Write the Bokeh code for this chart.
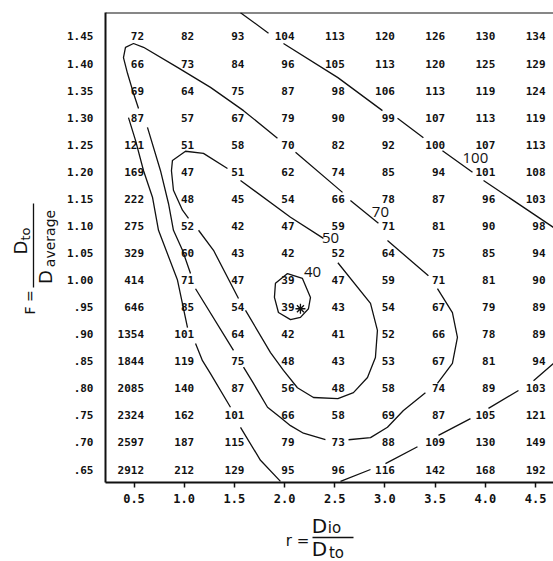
from math import pi, nan
from bokeh.plotting import figure
from bokeh.layouts import row, column
from bokeh.models import Range1d, FixedTicker, ColumnDataSource, Span
from bokeh.core.properties import value
from bokeh.embed import file_html
from bokeh.resources import INLINE

# ---------------- data ----------------
r_cols = [0.5, 1.0, 1.5, 2.0, 2.5, 3.0, 3.5, 4.0, 4.5]
F_rows = [1.45, 1.40, 1.35, 1.30, 1.25, 1.20, 1.15, 1.10, 1.05, 1.00,
          0.95, 0.90, 0.85, 0.80, 0.75, 0.70, 0.65]
x_tick_labels = ["0.5", "1.0", "1.5", "2.0", "2.5", "3.0", "3.5", "4.0", "4.5"]
y_tick_labels = ["1.45", "1.40", "1.35", "1.30", "1.25", "1.20", "1.15", "1.10",
                 "1.05", "1.00", ".95", ".90", ".85", ".80", ".75", ".70", ".65"]

grid_values = [
    [72, 82, 93, 104, 113, 120, 126, 130, 134],
    [66, 73, 84, 96, 105, 113, 120, 125, 129],
    [69, 64, 75, 87, 98, 106, 113, 119, 124],
    [87, 57, 67, 79, 90, 99, 107, 113, 119],
    [121, 51, 58, 70, 82, 92, 100, 107, 113],
    [169, 47, 51, 62, 74, 85, 94, 101, 108],
    [222, 48, 45, 54, 66, 78, 87, 96, 103],
    [275, 52, 42, 47, 59, 71, 81, 90, 98],
    [329, 60, 43, 42, 52, 64, 75, 85, 94],
    [414, 71, 47, 39, 47, 59, 71, 81, 90],
    [646, 85, 54, 39, 43, 54, 67, 79, 89],
    [1354, 101, 64, 42, 41, 52, 66, 78, 89],
    [1844, 119, 75, 48, 43, 53, 67, 81, 94],
    [2085, 140, 87, 56, 48, 58, 74, 89, 103],
    [2324, 162, 101, 66, 58, 69, 87, 105, 121],
    [2597, 187, 115, 79, 73, 88, 109, 130, 149],
    [2912, 212, 129, 95, 96, 116, 142, 168, 192],
]

# contour lines (nan = break where line meets a number)
c100_upper_r = [1.561, 1.840, nan, 1.989, 2.531, 2.975, nan, 3.125, 3.383, nan,
                3.573, 3.872, nan, 3.982, 4.68]
c100_upper_F = [1.494, 1.456, nan, 1.437, 1.374, 1.313, nan, 1.299, 1.263, nan,
                1.239, 1.199, nan, 1.184, 1.097]

c100_left_r = [0.445, 0.515, 0.595, 0.684, 0.744, 0.933, 1.033, nan, 1.113, 1.182,
               1.262, 1.461, nan, 1.561, 1.760, 1.959]
c100_left_F = [1.300, 1.258, 1.202, 1.153, 1.092, 1.000, 0.912, nan, 0.883, 0.851,
               0.827, 0.765, nan, 0.728, 0.667, 0.628]

c100_lower_r = [4.68, 4.480, nan, 4.330, 4.031, nan, 3.852, 3.533, nan, 3.324,
                3.005, nan, 2.856, 2.557]
c100_lower_F = [0.846, 0.814, nan, 0.796, 0.763, nan, 0.744, 0.713, nan, 0.692,
                0.661, nan, 0.650, 0.628]

c70_r = [0.595, 0.495, 0.415, 0.395, 0.435, 0.495, 0.545, nan, 0.634, 0.764, 0.844,
         0.893, 0.983, 1.063, nan, 1.113, 1.491, nan, 1.591, 1.690, 1.830, 1.959,
         2.059, 2.188, 2.407, nan, 2.637, 2.856, 3.025, 3.184, 3.403, nan, 3.523,
         3.672, 3.722, 3.672, 3.523, nan, 3.433, 3.025, nan, 2.935, 2.656, nan,
         2.577, 2.109, nan, 1.929, 1.591, 1.262, 0.933, 0.595]
c70_F = [1.430, 1.437, 1.430, 1.411, 1.382, 1.345, 1.317, nan, 1.282, 1.202, 1.141,
         1.092, 1.055, 1.012, nan, 0.984, 0.870, nan, 0.839, 0.809, 0.765, 0.746,
         0.731, 0.717, 0.705, nan, 0.705, 0.709, 0.728, 0.759, 0.792, nan, 0.809,
         0.846, 0.894, 0.940, 0.984, nan, 1.008, 1.073, nan, 1.105, 1.147, nan,
         1.162, 1.236, nan, 1.262, 1.313, 1.356, 1.393, 1.430]

c50_r = [1.431, 1.192, 1.013, 0.883, 0.873, 0.893, 0.983, 1.043, nan, 1.143, 1.292,
         1.541, nan, 1.611, 1.860, 1.989, 2.128, 2.288, 2.531, 2.686, 2.826, 2.905,
         2.925, 2.856, 2.531, nan, 2.387, 2.059, 1.561]
c50_F = [1.206, 1.234, 1.238, 1.221, 1.202, 1.166, 1.129, 1.114, nan, 1.092, 1.055,
         0.966, nan, 0.944, 0.866, 0.833, 0.801, 0.783, 0.781, 0.792, 0.820, 0.857,
         0.907, 0.957, 1.032, nan, 1.077, 1.116, 1.184]

c40_r = [2.029, 2.178, 2.258, 2.238, 2.158, 2.059, 1.939, 1.899, 1.909, 2.029]
c40_F = [1.012, 1.003, 0.968, 0.947, 0.931, 0.927, 0.940, 0.968, 0.994, 1.012]

contour_label_text = ["100", "70", "50", "40"]
contour_label_r = [3.901, 2.955, 2.457, 2.278]
contour_label_F = [1.225, 1.125, 1.077, 1.014]

optimum_r = [2.158]
optimum_F = [0.947]

# ---------------- main figure ----------------
INK = "#111111"
MONO = "DejaVu Sans Mono"
SANS = "DejaVu Sans"
H = 561  # page height, used to place the title pieces

p = figure(width=493, height=510, output_backend="svg", toolbar_location=None,
           x_range=Range1d(0.216, 4.679), y_range=Range1d(0.626, 1.4943),
           min_border_left=45, min_border_right=0, min_border_top=12,
           min_border_bottom=28)
p.outline_line_color = None
p.xgrid.visible = False
p.ygrid.visible = False

p.xaxis.ticker = FixedTicker(ticks=r_cols)
p.xaxis.major_label_overrides = {t: l for t, l in zip(r_cols, x_tick_labels)}
p.xaxis.minor_tick_line_color = None
p.xaxis.major_tick_in = 0
p.xaxis.major_tick_out = 5
p.xaxis.major_tick_line_width = 1.5
p.xaxis.major_tick_line_color = INK
p.xaxis.axis_line_width = 2
p.xaxis.axis_line_color = INK
p.xaxis.major_label_standoff = 6
p.xaxis.major_label_text_font = MONO
p.xaxis.major_label_text_font_style = "bold"
p.xaxis.major_label_text_font_size = "12px"
p.xaxis.major_label_text_color = INK

p.yaxis.ticker = FixedTicker(ticks=F_rows)
p.yaxis.major_label_overrides = {t: l for t, l in zip(F_rows, y_tick_labels)}
p.yaxis.minor_tick_line_color = None
p.yaxis.major_tick_line_color = None
p.yaxis.major_tick_in = 0
p.yaxis.major_tick_out = 0
p.yaxis.axis_line_width = 2
p.yaxis.axis_line_color = INK
p.yaxis.major_label_standoff = 12
p.yaxis.major_label_text_font = MONO
p.yaxis.major_label_text_font_style = "bold"
p.yaxis.major_label_text_font_size = "11px"
p.yaxis.major_label_text_color = INK

p.add_layout(Span(location=1.4943, dimension="width", line_color=INK, line_width=2))

xs, ys, ts = [], [], []
for F, vals in zip(F_rows, grid_values):
    for r, v in zip(r_cols, vals):
        xs.append(r)
        ys.append(F)
        ts.append(str(v))
src = ColumnDataSource(dict(x=xs, y=ys, t=ts))
p.text(x="x", y="y", text="t", source=src, text_font=value(MONO),
       text_font_style="bold", text_font_size="11px", text_align="right",
       text_baseline="middle", x_offset=10, text_color=INK)

for cr, cf in [(c100_upper_r, c100_upper_F), (c100_left_r, c100_left_F),
               (c100_lower_r, c100_lower_F), (c70_r, c70_F), (c50_r, c50_F),
               (c40_r, c40_F)]:
    p.line(cr, cf, line_color=INK, line_width=1.3)

p.text(x=contour_label_r, y=contour_label_F, text=contour_label_text,
       text_font=value("Open Sans"), text_font_size="15px", text_align="center",
       text_baseline="middle", text_color=INK)

p.scatter(optimum_r, optimum_F, marker="asterisk", size=10, line_color=INK,
          line_width=1.3)


# ---------------- title panels (fractions), placed in page pixels ----------------
def put(f, x, py, text, size, angle=0.0):
    f.text(x=[x], y=[H - py], text=[text], text_font=value(SANS),
           text_font_size=size, angle=angle, text_align="center",
           text_baseline="middle", text_color=INK)


# y title: F = D_to / D_average (rotated); frame spans page y 12..482
yt = figure(width=60, height=561, output_backend="svg", toolbar_location=None,
            x_range=Range1d(0, 60), y_range=Range1d(H - 482, H - 12),
            x_axis_type=None, y_axis_type=None, min_border_left=0,
            min_border_right=0, min_border_top=12, min_border_bottom=79)
yt.outline_line_color = None
put(yt, 29, 302, "F =", "14px", angle=pi / 2)
put(yt, 20, 247, "D", "18px", angle=pi / 2)
put(yt, 25, 233.5, "to", "13px", angle=pi / 2)
put(yt, 45, 276.5, "D", "18px", angle=pi / 2)
put(yt, 49.5, 238, "average", "14px", angle=pi / 2)
yt.line([33, 33], [H - 203, H - 287], line_color=INK, line_width=1.3)

# x title: r = D_io / D_to; frame spans page x 105..553, y 510..561
xt = figure(width=493, height=51, output_backend="svg", toolbar_location=None,
            x_range=Range1d(105, 553), y_range=Range1d(0, 51),
            x_axis_type=None, y_axis_type=None, min_border_left=45,
            min_border_right=0, min_border_top=0, min_border_bottom=0)
xt.outline_line_color = None
put(xt, 297, 540, "r =", "15px")
put(xt, 319, 525, "D", "20px")
put(xt, 334, 527.5, "io", "15px")
put(xt, 319, 548.5, "D", "20px")
put(xt, 336, 552, "to", "15px")
xt.line([312, 353], [H - 537, H - 537], line_color=INK, line_width=1.3)

layout = row(yt, column(p, xt, spacing=0), spacing=0)
open("out.html", "w").write(file_html(layout, INLINE))
